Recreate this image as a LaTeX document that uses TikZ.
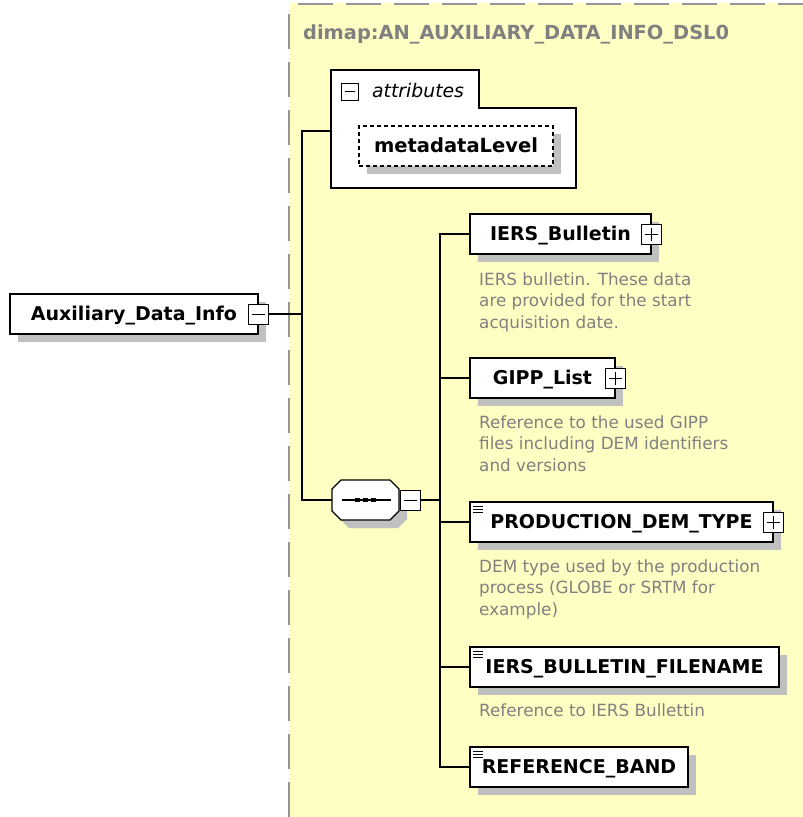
\documentclass[tikz,border=0pt]{standalone}
\usepackage{fontspec}
\setmainfont{DejaVu Sans}
\usetikzlibrary{shadows}
\definecolor{panelyellow}{RGB}{255,255,196}
\definecolor{shadowgray}{RGB}{192,192,192}
\definecolor{notegray}{RGB}{128,128,128}
\definecolor{dashgray}{RGB}{150,150,150}

\begin{document}
\begin{tikzpicture}[x=1pt,y=-1pt,
  conn/.style={line width=1.2pt},
  shade/.style={drop shadow={shadow xshift=8pt,shadow yshift=-8pt,fill=shadowgray,opacity=1}},
  elem/.style={draw=black,line width=1.2pt,fill=white,minimum height=40pt,inner sep=0pt,
    text height=13pt,text depth=0pt,font=\fontsize{19}{20}\bfseries,shade},
  simpletype/.style={elem,path picture={
    \foreach \d in {4,7,10}
      \draw[line width=0.9pt] ([shift={(3pt,-\d pt)}]path picture bounding box.north west) -- ++(10pt,0pt);}},
  toggle/.style={draw=black,line width=1pt,fill=white,minimum size=20pt,inner sep=0pt},
  minusbox/.style={toggle,path picture={
    \draw[line width=1pt] ([xshift=3.5pt]path picture bounding box.west) -- ([xshift=-3.5pt]path picture bounding box.east);}},
  plusbox/.style={toggle,path picture={
    \draw[line width=1pt] ([xshift=3.5pt]path picture bounding box.west) -- ([xshift=-3.5pt]path picture bounding box.east);
    \draw[line width=1pt] ([yshift=-3.5pt]path picture bounding box.north) -- ([yshift=3.5pt]path picture bounding box.south);}},
  note/.style={anchor=base west,align=left,inner sep=0pt,text=notegray,font=\fontsize{16.8}{21.5}\selectfont}]
\useasboundingbox (0,0) rectangle (803,817);

% the complex type panel
\fill[panelyellow] (289,3) rectangle (803,817);
\draw[dashgray,line width=1.5pt,dash pattern=on 35pt off 13pt] (289,817) -- (289,4);
\draw[dashgray,line width=1.5pt,dash pattern=on 35pt off 13pt,dash phase=-9pt] (289,4) -- (803,4);
\node[anchor=base west,inner sep=0pt,text=notegray,font=\fontsize{19.4}{20}\bfseries] (title) at (303,39) {dimap:AN\_AUXILIARY\_DATA\_INFO\_DSL0};

% attributes
\draw[line width=1.2pt,fill=white] (331,70) -- (479,70) -- (479,108) -- (576,108) -- (576,188) -- (331,188) -- cycle;
\coordinate (attrbox) at (331,131);
\node[minusbox,minimum size=17pt] (attrtoggle) at (349.5,91.5) {};
\node[anchor=west,inner sep=0pt,font=\fontsize{18.8}{20}\itshape] (attrlabel) at (372,90) {attributes};
\node[elem,dashed,dash pattern=on 4pt off 3pt,minimum width=194pt,font=\fontsize{19.5}{20}\bfseries] (mlevel) at (456,146) {metadataLevel};

% root element
\node[elem,minimum width=248pt] (aux) at (134,314) {Auxiliary\_Data\_Info};
\node[minusbox] (auxtoggle) at (aux.east) {};

% sequence
\node[minimum width=67pt,minimum height=40pt,inner sep=0pt] (seq) at (365.5,500) {};
\fill[shadowgray,shift={(8,8)}] (341,480) -- (390,480) -- (399,489) -- (399,511) -- (390,520) -- (341,520) -- (332,511) -- (332,489) -- cycle;
\draw[line width=1.2pt,fill=white] (341,480) -- (390,480) -- (399,489) -- (399,511) -- (390,520) -- (341,520) -- (332,511) -- (332,489) -- cycle;
\draw[line width=1.2pt] ([xshift=-24pt]seq.center) -- ([xshift=25pt]seq.center);
\foreach \dx in {-8,0,8}
  \fill ([shift={(\dx-2.5,-2)}]seq.center) rectangle ++(5,4);
\node[minusbox] (seqtoggle) at (410.5,500) {};

% children
\node[elem,minimum width=181pt] (bulletin) at (560.5,234) {IERS\_Bulletin};
\node[plusbox] (bulletintoggle) at (bulletin.east) {};
\node[note] (bulletinnote) at (479,328) {IERS bulletin. These data\\are provided for the start\\acquisition date.};

\node[elem,minimum width=145pt] (gipp) at (542.5,378) {GIPP\_List};
\node[plusbox] (gipptoggle) at (gipp.east) {};
\node[note] (gippnote) at (479,471) {Reference to the used GIPP\\files including DEM identifiers\\and versions};

\node[simpletype,minimum width=303pt] (demtype) at (621.5,522) {PRODUCTION\_DEM\_TYPE};
\node[plusbox] (demtypetoggle) at (demtype.east) {};
\node[note] (demtypenote) at (479,615) {DEM type used by the production\\process (GLOBE or SRTM for\\example)};

\node[simpletype,minimum width=309pt] (filename) at (624.5,667) {IERS\_BULLETIN\_FILENAME};
\node[note] (filenamenote) at (479,716) {Reference to IERS Bullettin};

\node[simpletype,minimum width=218pt] (refband) at (579,767) {REFERENCE\_BAND};

% connectors
\coordinate (split) at (302,314);
\coordinate (fork) at (440,500);
\draw[conn] (auxtoggle.east) -- (split);
\draw[conn] (attrbox) -| (split) |- (seq.west);
\draw[conn] (seqtoggle.east) -- (fork);
\foreach \n in {bulletin,gipp,demtype,filename,refband}
  \draw[conn] (fork) |- (\n.west);
\end{tikzpicture}
\end{document}
